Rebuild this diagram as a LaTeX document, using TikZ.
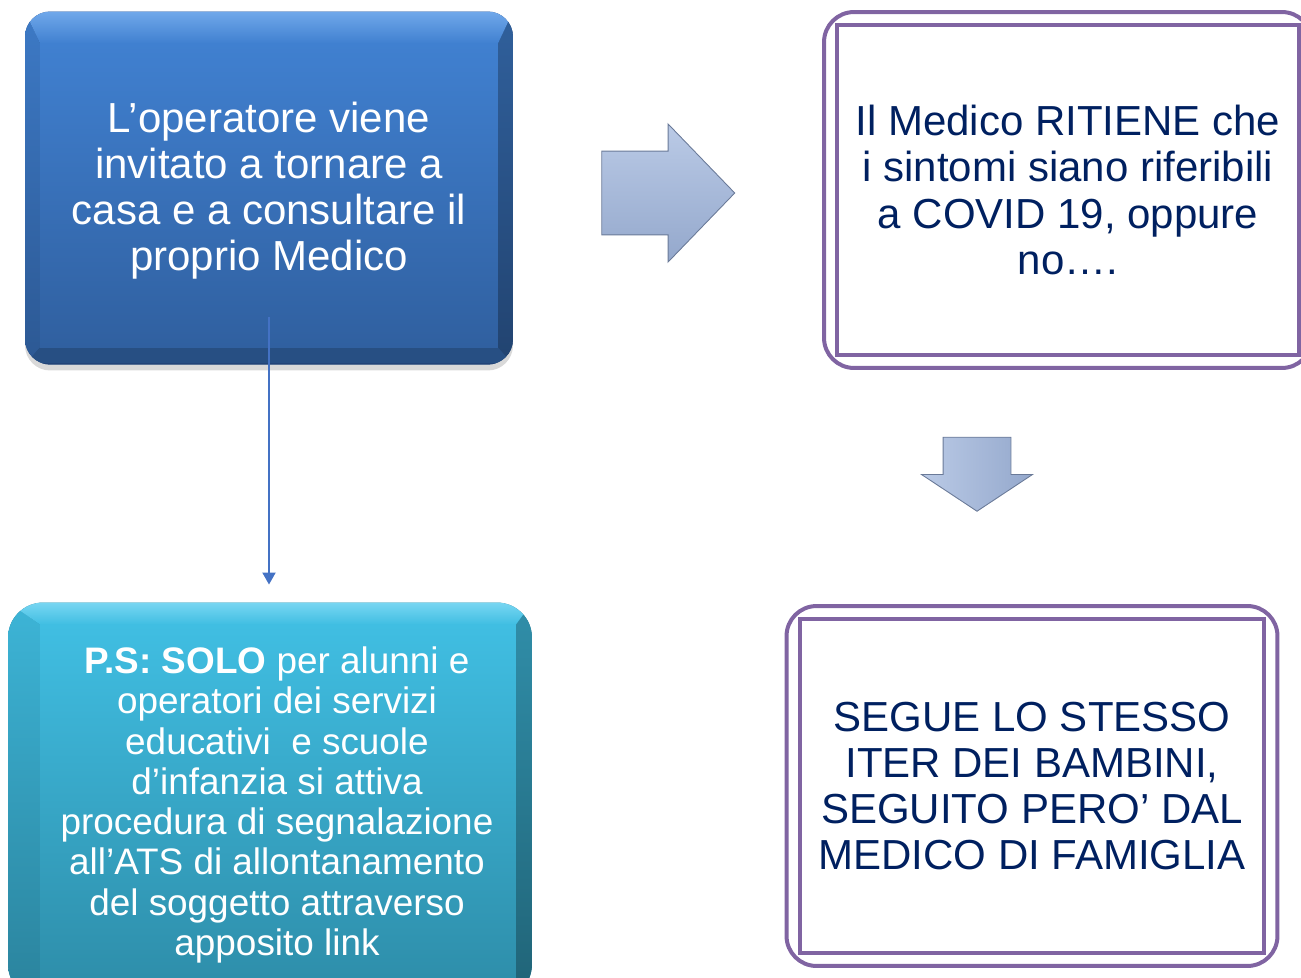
\documentclass[tikz,border=0pt]{standalone}
\usepackage{fontspec}
\setmainfont{Liberation Sans}
\usepackage{tikz}
\usetikzlibrary{shapes,arrows,arrows.meta,positioning,calc,shadows}
\usepackage{xcolor}
\definecolor{stepblue}{RGB}{64,128,208}
\definecolor{stepbluedark}{RGB}{48,96,160}
\definecolor{stepblueedge}{RGB}{34,68,120}
\definecolor{stepbluelight}{RGB}{112,168,234}
\definecolor{notecyan}{RGB}{64,190,226}
\definecolor{notecyandark}{RGB}{46,142,170}
\definecolor{notecyanedge}{RGB}{36,124,150}
\definecolor{notecyanlight}{RGB}{120,214,242}
\definecolor{framepurple}{RGB}{128,100,162}
\definecolor{textnavy}{RGB}{0,32,96}
\definecolor{arrowlight}{RGB}{186,202,230}
\definecolor{arrowmid}{RGB}{148,168,204}
\definecolor{arrowedge}{RGB}{106,122,152}
\definecolor{linkblue}{RGB}{68,114,196}

% bevel inside a box: #1 left, #2 top, #3 right, #4 bottom, #5 light, #6 dark, #7 face top, #8 face bottom
\newcommand{\bevelface}[8]{%
    \path (path picture bounding box.north west) coordinate (onw)
          (path picture bounding box.north east) coordinate (one)
          (path picture bounding box.south west) coordinate (osw)
          (path picture bounding box.south east) coordinate (ose);
    \path ($(onw)+(#1,-#2)$) coordinate (inw)
          ($(one)+(-#3,-#2)$) coordinate (ine)
          ($(osw)+(#1,#4)$) coordinate (isw)
          ($(ose)+(-#3,#4)$) coordinate (ise);
    \shade[sharp corners,top color=#7!95!black,bottom color=#8!92!black] (onw) -- (inw) -- (isw) -- (osw) -- cycle;
    \shade[sharp corners,top color=#7!75!black,bottom color=#8!70!black] (one) -- (ine) -- (ise) -- (ose) -- cycle;
    \fill[sharp corners,#8!82!black] (osw) -- (isw) -- (ise) -- (ose) -- cycle;
    \shade[sharp corners,top color=#5,bottom color=#7] (onw) -- (one) -- (ine) -- (inw) -- cycle;
    \shade[sharp corners,top color=#7,bottom color=#8] (inw) rectangle (ise);
    \draw[sharp corners,#6,line width=0.06cm] (path picture bounding box.south west) -- (path picture bounding box.south east);
}

\tikzset{
    boxtext/.style={align=center,inner sep=0pt,font=\fontsize{23.9}{26.2}\selectfont},
    bevelblue/.style={rectangle,rounded corners=0.5cm,outer sep=0pt,
        minimum width=9.76cm,minimum height=7.06cm,fill=stepblueedge,
        drop shadow={opacity=0.3,shadow xshift=0cm,shadow yshift=-0.12cm},
        path picture={\bevelface{0.3cm}{0.64cm}{0.3cm}{0.34cm}{stepbluelight}{stepblueedge}{stepblue}{stepbluedark}}},
    bevelcyan/.style={rectangle,rounded corners=0.7cm,outer sep=0pt,
        minimum width=10.48cm,minimum height=7.94cm,fill=notecyanedge,
        path picture={\bevelface{0.64cm}{0.44cm}{0.32cm}{0.32cm}{notecyanlight}{notecyanedge}{notecyan}{notecyandark}}},
    purplebox/.style={boxtext,rectangle,draw=framepurple,line width=0.08cm,
        rounded corners=0.6cm,outer sep=0pt,text=textnavy},
    innerframe/.style={draw=framepurple,line width=0.08cm},
    blockarrow/.style={single arrow,draw=arrowedge,line width=0.5pt,inner xsep=0pt,outer sep=0pt},
    link/.style={draw=linkblue,line width=0.04cm,-{Triangle[width=0.26cm,length=0.24cm]}}
}

\begin{document}
\begin{tikzpicture}[x=0.02cm,y=-0.02cm]
    \path[use as bounding box,clip] (0,0) rectangle (1301,977);

    % Left column
    \node[bevelblue] (opbox) at (269,188) {};
    \node[boxtext,text=white] (optext) at (269,191) {L’operatore viene\\ invitato a tornare a\\ casa e a consultare il\\ proprio Medico};

    \node[bevelcyan] (psbox) at (270,801) {};
    \node[boxtext,text=white,font=\fontsize{21}{22.9}\selectfont] (pstext) at (277,805) {%
        \textbf{P.S: SOLO} per alunni e\\ operatori dei servizi\\ educativi\ \ e scuole\\ d’infanzia si attiva\\
        procedura di segnalazione\\ all’ATS di allontanamento\\ del soggetto attraverso\\ apposito link};

    % Link between the left boxes
    \coordinate (linkstart) at ($(opbox.south)+(0,-47)$);
    \draw[link,shorten >=0.36cm] (linkstart) -- (linkstart |- psbox.north);

    % Right column
    \node[purplebox,minimum width=9.76cm,minimum height=7.12cm] (medbox) at (1068,190) {Il Medico RITIENE che\\ i sintomi siano riferibili\\ a COVID 19, oppure\\ no….};
    \draw[innerframe] ($(medbox.north west)+(13,13)$) rectangle ($(medbox.south east)+(-13,-13)$);

    \node[purplebox,minimum width=9.82cm,minimum height=7.2cm] (famibox) at (1032,786) {SEGUE LO STESSO\\ ITER DEI BAMBINI,\\ SEGUITO PERO’ DAL\\ MEDICO DI FAMIGLIA};
    \draw[innerframe] ($(famibox.north west)+(13,13)$) rectangle ($(famibox.south east)+(-13,-13)$);

    % Block arrows
    \node[blockarrow,top color=arrowlight,bottom color=arrowmid,inner ysep=0.83cm,
        minimum height=2.66cm,minimum width=2.74cm,
        single arrow head extend=0.54cm,single arrow tip angle=92] (arrowright) at (648,193) {};
    \node[blockarrow,left color=arrowlight,right color=arrowmid,inner ysep=0.67cm,rotate=-90,
        minimum height=1.48cm,minimum width=2.2cm,
        single arrow head extend=0.43cm,single arrow tip angle=113] (arrowdown) at (977,463) {};
\end{tikzpicture}
\end{document}
